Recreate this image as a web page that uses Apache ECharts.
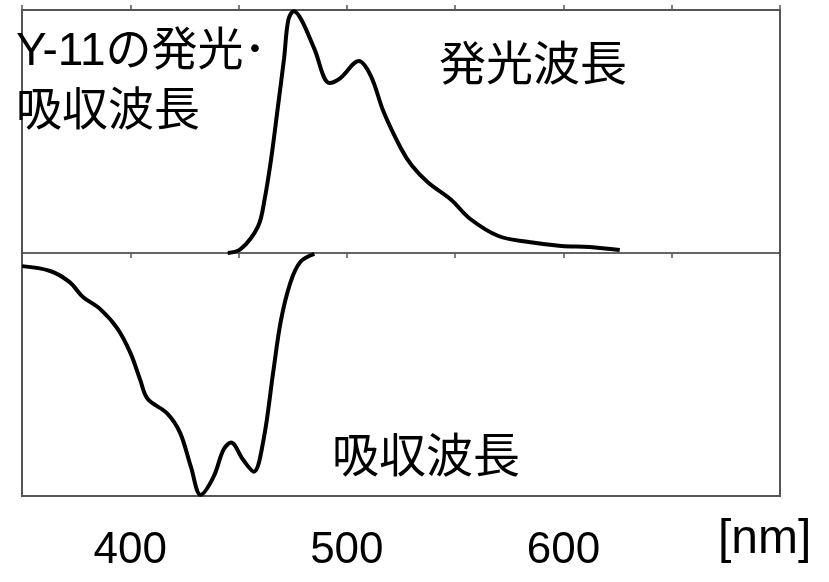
<!DOCTYPE html>
<html>
<head>
<meta charset="utf-8">
<script src="https://cdn.jsdelivr.net/npm/echarts@6/dist/echarts.min.js"></script>
<style>
html,body{margin:0;padding:0;background:#fff;}
#c{width:829px;height:582px;}
</style>
</head>
<body>
<div id="c"></div>
<script>
// Wavelength axis
var xMin = 350, xMax = 700, xStep = 50;
var xTickLabels = ['400', '500', '600'];
var unitLabel = '[nm]';

// Emission spectrum (upper half, normalised)
var emissionNm = [445, 451, 459, 462, 465, 468, 471, 473, 475.5, 479, 485, 492, 497, 505.5, 511, 517, 525, 530, 537.5, 548, 557, 570, 584, 599, 612, 626];
var emission   = [0, 0.016, 0.11, 0.22, 0.385, 0.59, 0.80, 0.96, 0.995, 0.96, 0.84, 0.70, 0.72, 0.79, 0.73, 0.58, 0.43, 0.36, 0.29, 0.22, 0.14, 0.07, 0.045, 0.029, 0.025, 0.012];

// Absorption spectrum (lower half, drawn downward)
var absorptionNm = [350, 363, 372, 378, 386, 394, 400, 404.5, 408, 417, 423, 428, 432.5, 438.5, 443, 446.5, 452, 457, 461.5, 466, 469.5, 474, 478.5, 485];
var absorption   = [-0.054, -0.074, -0.12, -0.18, -0.23, -0.31, -0.41, -0.52, -0.60, -0.66, -0.74, -0.88, -0.995, -0.92, -0.81, -0.78, -0.85, -0.90, -0.77, -0.49, -0.28, -0.12, -0.037, -0.004];

// Annotations
var titleLine1 = 'Y-11の発光･';
var titleLine2 = '吸収波長';
var emissionText = '発光波長';
var absorptionText = '吸収波長';

function pairs(xs, ys) { return xs.map(function (x, i) { return [x, ys[i]]; }); }

var FONT = '"Liberation Sans", Arial, "Noto Sans CJK JP", sans-serif';
var NARROW = '"Liberation Sans Narrow", "Liberation Sans", Arial, sans-serif';
var chart = echarts.init(document.getElementById('c'), null, {renderer: 'canvas'});
chart.setOption({
  backgroundColor: '#ffffff',
  animation: false,
  grid: {left: 22, right: 49, top: 10, bottom: 86, show: true, borderColor: '#555', borderWidth: 2, backgroundColor: 'transparent'},
  xAxis: [
    {type: 'value', min: xMin, max: xMax, interval: xStep, position: 'bottom',
     axisLine: {show: true, onZero: true, lineStyle: {color: '#333', width: 1.5}},
     axisTick: {show: true, inside: false, length: 5, lineStyle: {color: '#555', width: 1.5}},
     axisLabel: {show: false}, splitLine: {show: false}},
    {type: 'value', min: xMin, max: xMax, interval: xStep, position: 'top',
     axisLine: {show: false, onZero: true},
     axisTick: {show: true, inside: false, length: 5, lineStyle: {color: '#555', width: 1.5}},
     axisLabel: {show: false}, splitLine: {show: false}},
    {type: 'value', min: xMin, max: xMax, interval: xStep, position: 'bottom',
     axisLine: {show: false, onZero: false}, axisTick: {show: false}, splitLine: {show: false},
     axisLabel: {show: true, margin: 33, color: '#000', fontSize: 44, fontFamily: NARROW,
       showMinLabel: false, showMaxLabel: false,
       formatter: function (v) { var s = String(v); return xTickLabels.indexOf(s) >= 0 ? s : ''; }}}
  ],
  yAxis: {type: 'value', min: -1, max: 1, show: false, splitLine: {show: false}},
  series: [
    {type: 'line', xAxisIndex: 0, data: pairs(emissionNm, emission), smooth: 0.35, symbol: 'none', clip: false,
     lineStyle: {color: '#000', width: 4}},
    {type: 'line', xAxisIndex: 0, data: pairs(absorptionNm, absorption), smooth: 0.35, symbol: 'none', clip: false,
     lineStyle: {color: '#000', width: 4}}
  ],
  graphic: [
    {type: 'text', left: 16, top: 29, z: 10, style: {text: titleLine1, fontSize: 46, fontFamily: FONT, fill: '#000'}},
    {type: 'text', left: 16, top: 89, z: 10, style: {text: titleLine2, fontSize: 46, fontFamily: FONT, fill: '#000'}},
    {type: 'text', left: 439, top: 44, z: 10, style: {text: emissionText, fontSize: 47, fontFamily: FONT, fill: '#000'}},
    {type: 'text', left: 332, top: 436, z: 10, style: {text: absorptionText, fontSize: 47, fontFamily: FONT, fill: '#000'}},
    {type: 'text', left: 718, top: 516, z: 10, style: {text: unitLabel, fontSize: 48, fontFamily: NARROW, fill: '#000'}}
  ]
});
</script>
</body>
</html>
